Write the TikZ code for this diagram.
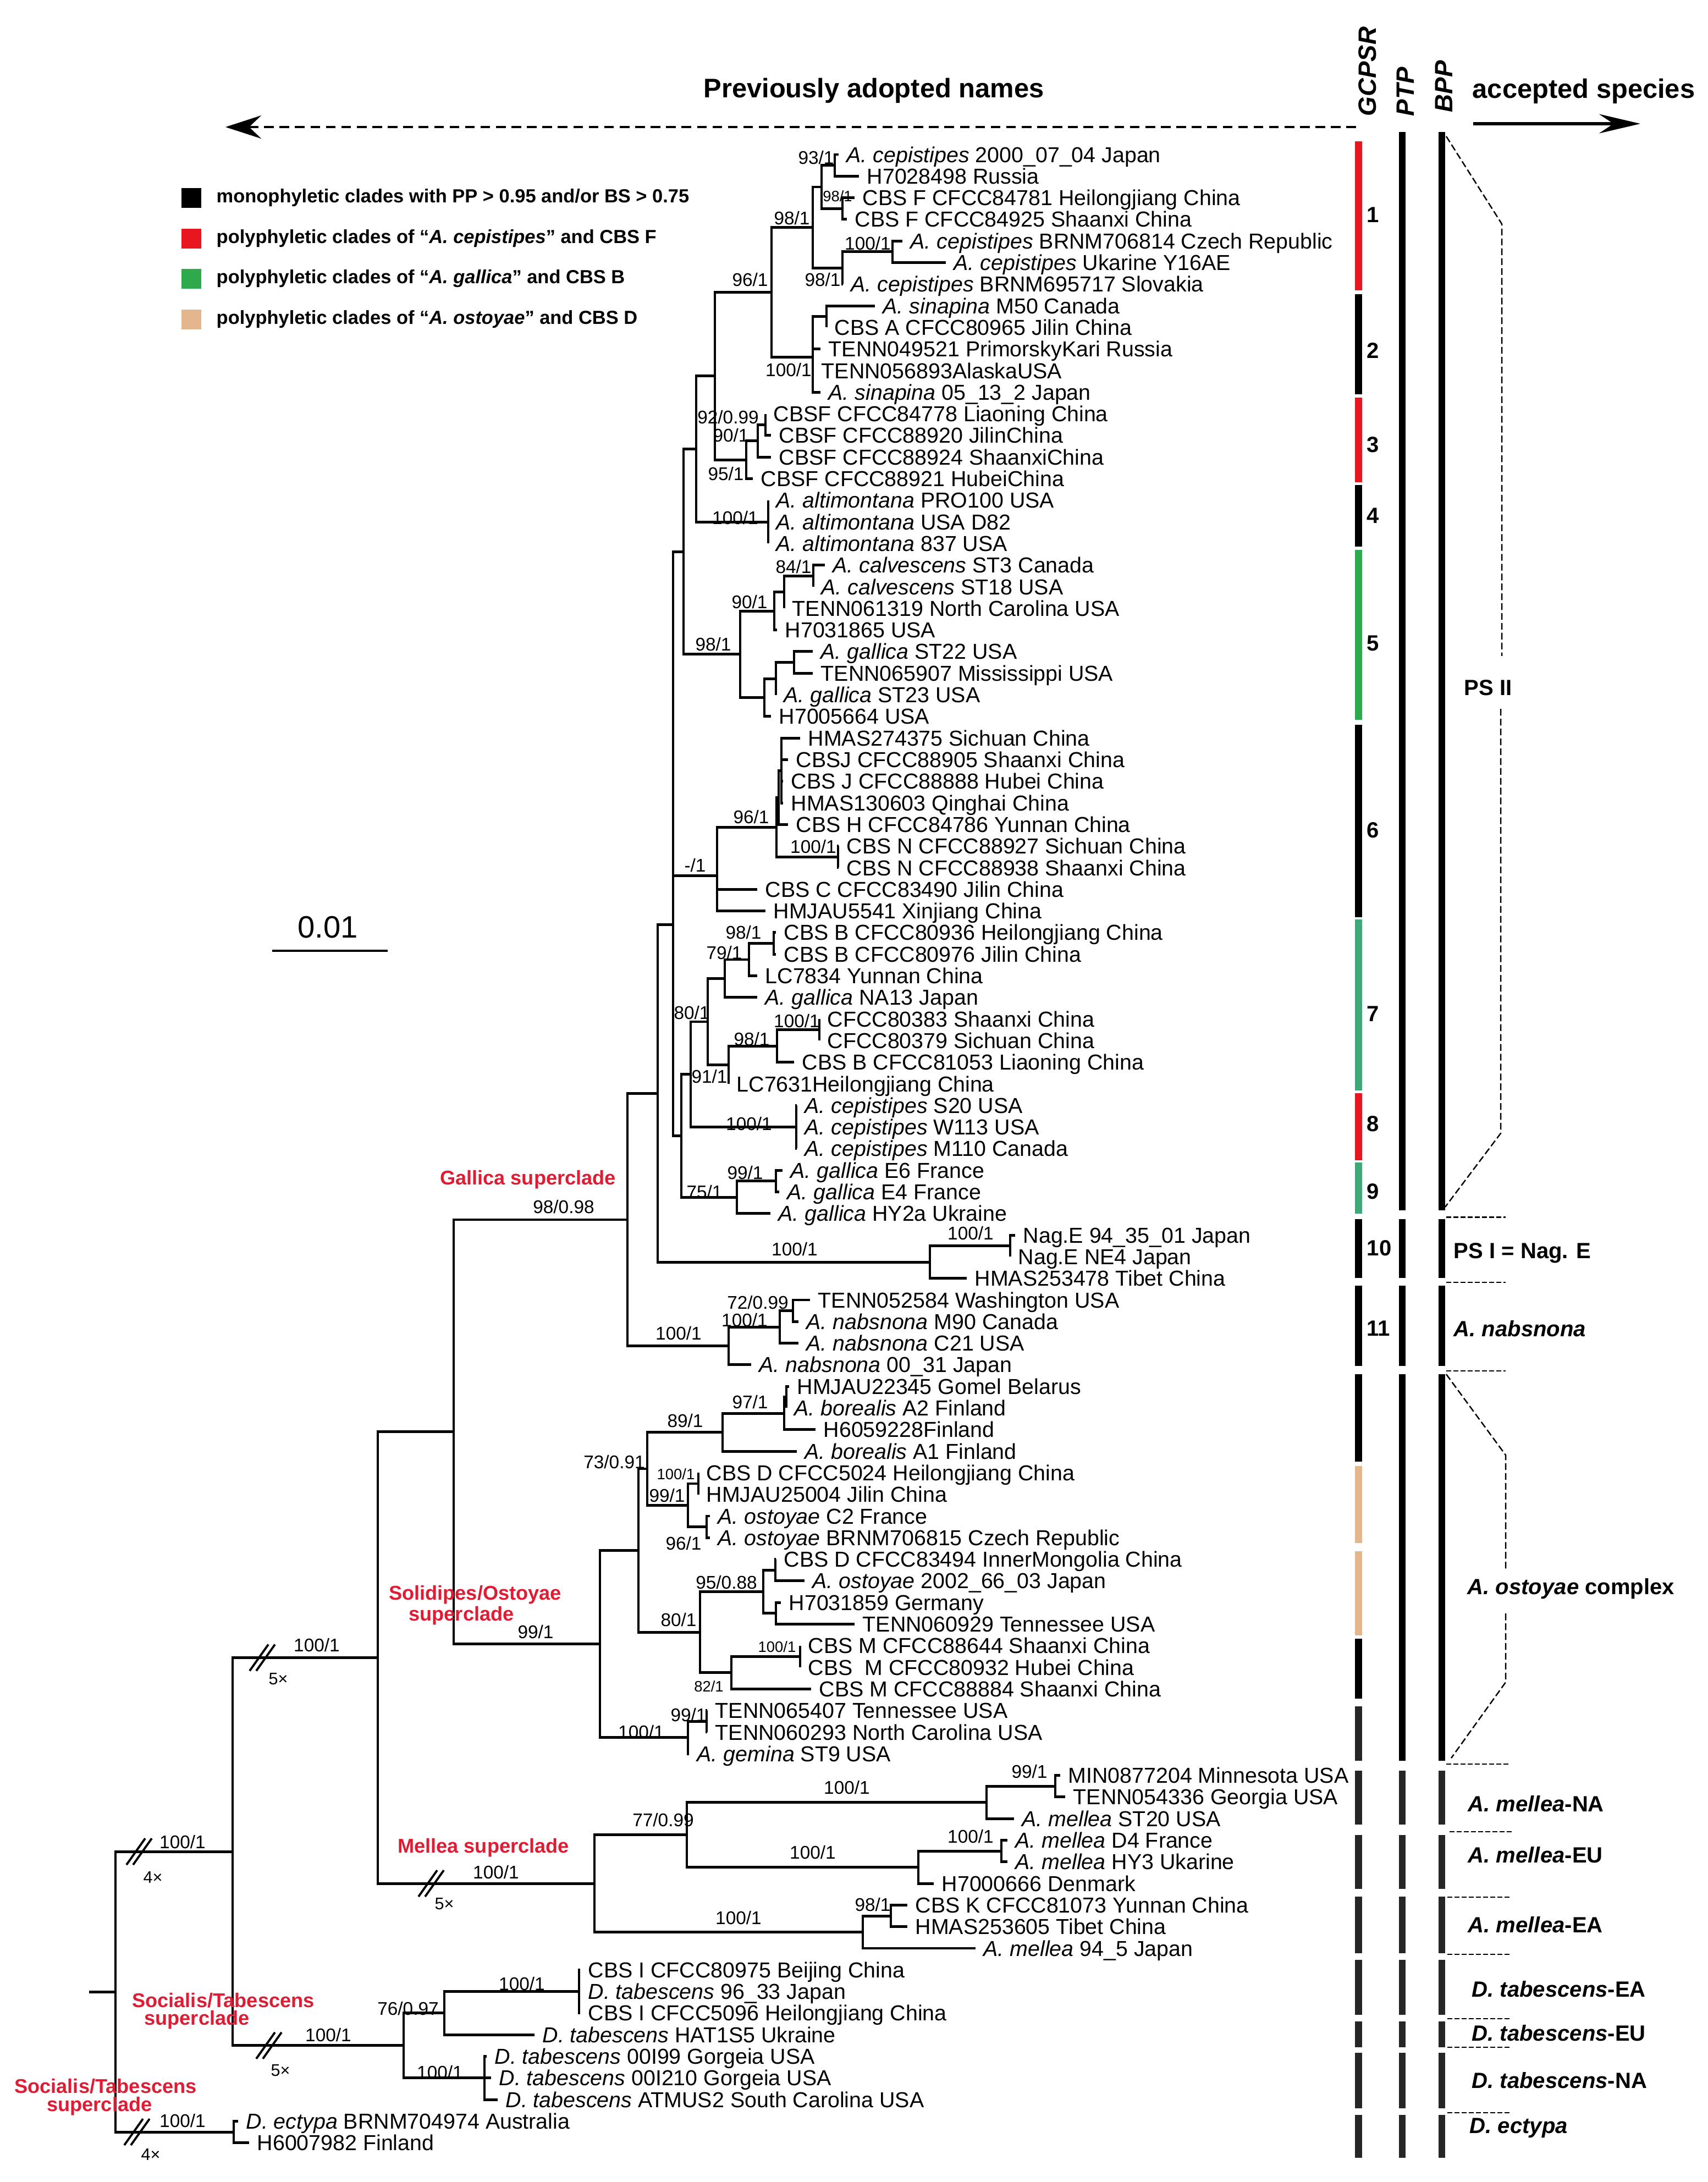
\documentclass[tikz,border=0pt]{standalone}
\usepackage{fontspec}
\setmainfont{Liberation Sans}
\usetikzlibrary{arrows.meta}

\definecolor{barred}{RGB}{232,22,30}
\definecolor{bargreen}{RGB}{46,170,76}
\definecolor{barteal}{RGB}{64,168,118}
\definecolor{bartan}{RGB}{228,182,142}
\definecolor{bardark}{RGB}{38,38,38}
\definecolor{cladered}{RGB}{222,28,52}

\begin{document}
\begin{tikzpicture}[x=1cm, y=-1cm,
    br/.style={line width=1.4pt},
    leaf/.style={anchor=west, inner xsep=0.14cm, inner ysep=0pt, text height=8pt, text depth=0pt, font=\fontsize{11.2}{12}\selectfont},
    bs/.style={inner sep=0pt, font=\fontsize{9.5}{10}\selectfont},
    bss/.style={inner sep=0pt, font=\fontsize{7.8}{8}\selectfont},
    brk/.style={line width=1.1pt},
    times/.style={inner sep=0pt, font=\fontsize{8.7}{9}\selectfont},
    super/.style={inner sep=0pt, text=cladered, font=\bfseries\fontsize{10.3}{11}\selectfont},
    colbar/.style={line width=3.7pt},
    pbar/.style={line width=3.3pt},
    num/.style={anchor=west, inner sep=0pt, font=\bfseries\fontsize{11.4}{12}\selectfont},
    spname/.style={anchor=west, inner sep=0pt, font=\bfseries\fontsize{11.4}{12}\selectfont},
    colhead/.style={rotate=90, anchor=west, inner sep=0pt, font=\bfseries\itshape\fontsize{13}{14}\selectfont},
    legtext/.style={anchor=west, inner sep=0pt, font=\bfseries\fontsize{9.8}{11}\selectfont},
    bppdash/.style={line width=0.7pt, dash pattern=on 3.5pt off 1.6pt},
    bppsep/.style={line width=0.7pt, dash pattern=on 2.5pt off 1.2pt}]

    \useasboundingbox (0,0) rectangle (31.06,39.68);

    % Header
    \node[inner sep=0pt, font=\bfseries\fontsize{13.9}{15}\selectfont] (prev) at (15.89,1.65) {Previously adopted names};
    \node[inner sep=0pt, font=\bfseries\fontsize{13.9}{15}\selectfont] (acc) at (28.80,1.66) {accepted species};
    \coordinate (hdl) at (4.10,2.31);
    \coordinate (hdr) at (24.66,2.31);
    \draw[line width=1.3pt, dash pattern=on 5pt off 3pt, -{Stealth[length=6.5mm,width=4.2mm,inset=2.2mm]}] (hdr) -- (hdl);
    \coordinate (har) at (26.79,2.25);
    \coordinate (hab) at (29.83,2.25);
    \draw[line width=1.5pt, -{Stealth[length=7.5mm,width=3.5mm,inset=2.6mm]}] (har) -- (hab);
    \node[colhead] (hg) at (24.87,2.12) {GCPSR};
    \node[colhead] (hp) at (25.56,2.12) {PTP};
    \node[colhead] (hb) at (26.26,2.05) {BPP};

    % Legend
    \fill[black] (3.30,3.42) rectangle (3.66,3.78);
    \fill[barred] (3.30,4.16) rectangle (3.66,4.52);
    \fill[bargreen] (3.30,4.89) rectangle (3.66,5.25);
    \fill[bartan] (3.30,5.63) rectangle (3.66,5.99);
    \node[legtext] (lg1) at (3.93,3.60) {monophyletic clades with PP > 0.95 and/or BS > 0.75};
    \node[legtext] (lg2) at (3.93,4.34) {polyphyletic clades of ``\emph{A. cepistipes}'' and CBS F};
    \node[legtext] (lg3) at (3.93,5.07) {polyphyletic clades of ``\emph{A. gallica}'' and CBS B};
    \node[legtext] (lg4) at (3.93,5.81) {polyphyletic clades of ``\emph{A. ostoyae}'' and CBS D};

    % Scale bar
    \node[inner sep=0pt, font=\fontsize{16}{17}\selectfont] (scl) at (5.96,16.86) {0.01};
    \draw[line width=1.2pt] (4.95,17.29) -- (7.05,17.29);

    \begin{scope}[yshift=-2.417cm, y=-0.393cm]
    % Tips
    \node[leaf] (t1) at (15.25,1) {\emph{A. cepistipes} 2000\_07\_04 Japan};
    \node[leaf] (t2) at (15.62,2) {H7028498 Russia};
    \node[leaf] (t3) at (15.54,3) {CBS F CFCC84781 Heilongjiang China};
    \node[leaf] (t4) at (15.40,4) {CBS F CFCC84925 Shaanxi China};
    \node[leaf] (t5) at (16.41,5) {\emph{A. cepistipes} BRNM706814 Czech Republic};
    \node[leaf] (t6) at (17.20,6) {\emph{A. cepistipes} Ukarine Y16AE};
    \node[leaf] (t7) at (15.33,7) {\emph{A. cepistipes} BRNM695717 Slovakia};
    \node[leaf] (t8) at (15.91,8) {\emph{A. sinapina} M50 Canada};
    \node[leaf] (t9) at (15.03,9) {CBS A CFCC80965 Jilin China};
    \node[leaf] (t10) at (14.92,10) {TENN049521 PrimorskyKari Russia};
    \node[leaf] (t11) at (14.79,11) {TENN056893AlaskaUSA};
    \node[leaf] (t12) at (14.92,12) {\emph{A. sinapina} 05\_13\_2 Japan};
    \node[leaf] (t13) at (13.92,13) {CBSF CFCC84778 Liaoning China};
    \node[leaf] (t14) at (14.02,14) {CBSF CFCC88920 JilinChina};
    \node[leaf] (t15) at (14.02,15) {CBSF CFCC88924 ShaanxiChina};
    \node[leaf] (t16) at (13.69,16) {CBSF CFCC88921 HubeiChina};
    \node[leaf] (t17) at (13.97,17) {\emph{A. altimontana} PRO100 USA};
    \node[leaf] (t18) at (13.97,18) {\emph{A. altimontana} USA D82};
    \node[leaf] (t19) at (13.97,19) {\emph{A. altimontana} 837 USA};
    \node[leaf] (t20) at (15.00,20) {\emph{A. calvescens} ST3 Canada};
    \node[leaf] (t21) at (14.79,21) {\emph{A. calvescens} ST18 USA};
    \node[leaf] (t22) at (14.26,22) {TENN061319 North Carolina USA};
    \node[leaf] (t23) at (14.13,23) {H7031865 USA};
    \node[leaf] (t24) at (14.78,24) {\emph{A. gallica} ST22 USA};
    \node[leaf] (t25) at (14.78,25) {TENN065907 Mississippi USA};
    \node[leaf] (t26) at (14.11,26) {\emph{A. gallica} ST23 USA};
    \node[leaf] (t27) at (14.02,27) {H7005664 USA};
    \node[leaf] (t28) at (14.55,28) {HMAS274375 Sichuan China};
    \node[leaf] (t29) at (14.33,29) {CBSJ CFCC88905 Shaanxi China};
    \node[leaf] (t30) at (14.24,30) {CBS J CFCC88888 Hubei China};
    \node[leaf] (t31) at (14.24,31) {HMAS130603 Qinghai China};
    \node[leaf] (t32) at (14.33,32) {CBS H CFCC84786 Yunnan China};
    \node[leaf] (t33) at (15.25,33) {CBS N CFCC88927 Sichuan China};
    \node[leaf] (t34) at (15.25,34) {CBS N CFCC88938 Shaanxi China};
    \node[leaf] (t35) at (13.77,35) {CBS C CFCC83490 Jilin China};
    \node[leaf] (t36) at (13.92,36) {HMJAU5541 Xinjiang China};
    \node[leaf] (t37) at (14.11,37) {CBS B CFCC80936 Heilongjiang China};
    \node[leaf] (t38) at (14.11,38) {CBS B CFCC80976 Jilin China};
    \node[leaf] (t39) at (13.77,39) {LC7834 Yunnan China};
    \node[leaf] (t40) at (13.77,40) {\emph{A. gallica} NA13 Japan};
    \node[leaf] (t41) at (14.90,41) {CFCC80383 Shaanxi China};
    \node[leaf] (t42) at (14.90,42) {CFCC80379 Sichuan China};
    \node[leaf] (t43) at (14.44,43) {CBS B CFCC81053 Liaoning China};
    \node[leaf] (t44) at (13.25,44) {LC7631Heilongjiang China};
    \node[leaf] (t45) at (14.49,45) {\emph{A. cepistipes} S20 USA};
    \node[leaf] (t46) at (14.49,46) {\emph{A. cepistipes} W113 USA};
    \node[leaf] (t47) at (14.49,47) {\emph{A. cepistipes} M110 Canada};
    \node[leaf] (t48) at (14.23,48) {\emph{A. gallica} E6 France};
    \node[leaf] (t49) at (14.17,49) {\emph{A. gallica} E4 France};
    \node[leaf] (t50) at (14.01,50) {\emph{A. gallica} HY2a Ukraine};
    \node[leaf] (t51) at (18.46,51) {Nag.E 94\_35\_01 Japan};
    \node[leaf] (t52) at (18.37,52) {Nag.E NE4 Japan};
    \node[leaf] (t53) at (17.58,53) {HMAS253478 Tibet China};
    \node[leaf] (t54) at (14.73,54) {TENN052584 Washington USA};
    \node[leaf] (t55) at (14.52,55) {\emph{A. nabsnona} M90 Canada};
    \node[leaf] (t56) at (14.52,56) {\emph{A. nabsnona} C21 USA};
    \node[leaf] (t57) at (13.66,57) {\emph{A. nabsnona} 00\_31 Japan};
    \node[leaf] (t58) at (14.35,58) {HMJAU22345 Gomel Belarus};
    \node[leaf] (t59) at (14.30,59) {\emph{A. borealis} A2 Finland};
    \node[leaf] (t60) at (14.83,60) {H6059228Finland};
    \node[leaf] (t61) at (14.49,61) {\emph{A. borealis} A1 Finland};
    \node[leaf] (t62) at (12.70,62) {CBS D CFCC5024 Heilongjiang China};
    \node[leaf] (t63) at (12.70,63) {HMJAU25004 Jilin China};
    \node[leaf] (t64) at (12.91,64) {\emph{A. ostoyae} C2 France};
    \node[leaf] (t65) at (12.91,65) {\emph{A. ostoyae} BRNM706815 Czech Republic};
    \node[leaf] (t66) at (14.11,66) {CBS D CFCC83494 InnerMongolia China};
    \node[leaf] (t67) at (14.63,67) {\emph{A. ostoyae} 2002\_66\_03 Japan};
    \node[leaf] (t68) at (14.20,68) {H7031859 Germany};
    \node[leaf] (t69) at (15.54,69) {TENN060929 Tennessee USA};
    \node[leaf] (t70) at (14.55,70) {CBS M CFCC88644 Shaanxi China};
    \node[leaf] (t71) at (14.55,71) {CBS\ \ M CFCC80932 Hubei China};
    \node[leaf] (t72) at (14.75,72) {CBS M CFCC88884 Shaanxi China};
    \node[leaf] (t73) at (12.86,73) {TENN065407 Tennessee USA};
    \node[leaf] (t74) at (12.86,74) {TENN060293 North Carolina USA};
    \node[leaf] (t75) at (12.53,75) {\emph{A. gemina} ST9 USA};
    \node[leaf] (t76) at (19.28,76) {MIN0877204 Minnesota USA};
    \node[leaf] (t77) at (19.37,77) {TENN054336 Georgia USA};
    \node[leaf] (t78) at (18.44,78) {\emph{A. mellea} ST20 USA};
    \node[leaf] (t79) at (18.32,79) {\emph{A. mellea} D4 France};
    \node[leaf] (t80) at (18.32,80) {\emph{A. mellea} HY3 Ukarine};
    \node[leaf] (t81) at (16.98,81) {H7000666 Denmark};
    \node[leaf] (t82) at (16.50,82) {CBS K CFCC81073 Yunnan China};
    \node[leaf] (t83) at (16.50,83) {HMAS253605 Tibet China};
    \node[leaf] (t84) at (17.74,84) {\emph{A. mellea} 94\_5 Japan};
    \node[leaf] (t85) at (10.55,85) {CBS I CFCC80975 Beijing China};
    \node[leaf] (t86) at (10.55,86) {\emph{D. tabescens} 96\_33 Japan};
    \node[leaf] (t87) at (10.55,87) {CBS I CFCC5096 Heilongjiang China};
    \node[leaf] (t88) at (9.72,88) {\emph{D. tabescens} HAT1S5 Ukraine};
    \node[leaf] (t89) at (8.85,89) {\emph{D. tabescens} 00I99 Gorgeia USA};
    \node[leaf] (t90) at (8.93,90) {\emph{D. tabescens} 00I210 Gorgeia USA};
    \node[leaf] (t91) at (9.05,91) {\emph{D. tabescens} ATMUS2 South Carolina USA};
    \node[leaf] (t92) at (4.33,92) {\emph{D. ectypa} BRNM704974 Australia};
    \node[leaf] (t93) at (4.53,93) {H6007982 Finland};

    % Inner nodes
    \coordinate (n93) at (15.18,1.5);
    \coordinate (n98a) at (15.32,3.5);
    \coordinate (n1g) at (14.94,2.5);
    \coordinate (n100a) at (16.23,5.5);
    \coordinate (n98b) at (15.32,6.25);
    \coordinate (n98c) at (14.78,4.375);
    \coordinate (nd) at (15.03,8.5);
    \coordinate (nS) at (14.78,10.375);
    \coordinate (n96) at (14.03,7.375);
    \coordinate (n92) at (13.92,13.5);
    \coordinate (n90) at (13.78,14.25);
    \coordinate (n95) at (13.57,15.125);
    \coordinate (nP1) at (13.00,11.25);
    \coordinate (n100c) at (13.97,18);
    \coordinate (nP2) at (12.66,14.625);
    \coordinate (n84) at (14.79,20.5);
    \coordinate (nq) at (14.26,21.25);
    \coordinate (n90b) at (14.08,22.125);
    \coordinate (nr) at (14.44,24.5);
    \coordinate (ns) at (14.11,25.25);
    \coordinate (nt) at (13.90,26.125);
    \coordinate (n98d) at (13.46,24.125);
    \coordinate (nTop) at (12.43,19.375);
    \coordinate (nV) at (14.21,29.5);
    \coordinate (nU) at (14.16,30.75);
    \coordinate (nN) at (15.24,33.5);
    \coordinate (n96c) at (14.12,32.125);
    \coordinate (nM) at (13.04,34.375);
    \coordinate (nA) at (12.24,26.875);
    \coordinate (n98e) at (14.07,37.5);
    \coordinate (n79) at (13.62,38.25);
    \coordinate (nu) at (13.18,39.125);
    \coordinate (n100b) at (14.90,41.5);
    \coordinate (n98f) at (14.13,42.25);
    \coordinate (nv) at (13.25,43.125);
    \coordinate (n80) at (12.87,41.125);
    \coordinate (n100p) at (14.48,46);
    \coordinate (n91) at (12.56,43.5625);
    \coordinate (n99) at (14.11,48.5);
    \coordinate (n75) at (13.40,49.25);
    \coordinate (nC) at (12.39,46.40625);
    \coordinate (nB) at (12.24,36.640625);
    \coordinate (n100d) at (18.37,51.5);
    \coordinate (nNagE) at (16.91,52.25);
    \coordinate (nG2) at (11.96,44.4453);
    \coordinate (n72) at (14.42,54.5);
    \coordinate (n100e) at (14.18,55.25);
    \coordinate (nNab) at (13.25,56.125);
    \coordinate (nGal) at (11.41,50.2852);
    \coordinate (nw) at (14.30,58.5);
    \coordinate (n97) at (14.26,59.25);
    \coordinate (n89) at (13.14,60.125);
    \coordinate (n100f) at (12.70,62.5);
    \coordinate (n96b) at (12.85,64.5);
    \coordinate (n99b) at (12.51,63.5);
    \coordinate (n73) at (11.77,61.8125);
    \coordinate (na) at (14.10,66.5);
    \coordinate (nb) at (14.11,68.5);
    \coordinate (n95b) at (13.88,67.5);
    \coordinate (n100g) at (14.55,70.5);
    \coordinate (n82) at (13.30,71.25);
    \coordinate (n80b) at (12.73,69.375);
    \coordinate (nX) at (11.61,65.59375);
    \coordinate (n99c) at (12.85,73.5);
    \coordinate (n100h) at (12.51,74.25);
    \coordinate (nSol) at (10.91,69.921875);
    \coordinate (nArm2) at (8.25,60.1035);
    \coordinate (n99d) at (19.19,76.5);
    \coordinate (n100i) at (17.94,77.25);
    \coordinate (n100j) at (18.21,79.5);
    \coordinate (n100k) at (16.70,80.25);
    \coordinate (n77) at (12.49,78.75);
    \coordinate (n98g) at (16.20,82.5);
    \coordinate (n100l) at (15.69,83.25);
    \coordinate (nMel) at (10.81,81);
    \coordinate (nArm) at (6.87,70.5518);
    \coordinate (n100m) at (10.53,86);
    \coordinate (n76) at (8.08,87);
    \coordinate (n100n) at (8.81,90);
    \coordinate (nTab) at (7.34,88.5);
    \coordinate (nIn) at (4.23,79.5259);
    \coordinate (nEct) at (4.25,92.5);
    \coordinate (nRoot) at (2.10,86.013);
    \coordinate (nStub) at (1.62,86.013);

    % Branches: Gallica superclade
    \draw[br] (n93) |- (t1.west) (n93) |- (t2.west);
    \draw[br] (n98a) |- (t3.west) (n98a) |- (t4.west);
    \draw[br] (n1g) |- (n93) (n1g) |- (n98a);
    \draw[br] (n100a) |- (t5.west) (n100a) |- (t6.west);
    \draw[br] (n98b) |- (n100a) (n98b) |- (t7.west);
    \draw[br] (n98c) |- (n1g) (n98c) |- (n98b);
    \draw[br] (nd) |- (t8.west) (nd) |- (t9.west);
    \draw[br] (nS) |- (nd) (nS) |- (t10.west) (nS) |- (t11.west) (nS) |- (t12.west);
    \draw[br] (n96) |- (n98c) (n96) |- (nS);
    \draw[br] (n92) |- (t13.west) (n92) |- (t14.west);
    \draw[br] (n90) |- (n92) (n90) |- (t15.west);
    \draw[br] (n95) |- (n90) (n95) |- (t16.west);
    \draw[br] (nP1) |- (n96) (nP1) |- (n95);
    \draw[br] (n100c) |- (t17.west) (n100c) |- (t18.west) (n100c) |- (t19.west);
    \draw[br] (nP2) |- (nP1) (nP2) |- (n100c);
    \draw[br] (n84) |- (t20.west) (n84) |- (t21.west);
    \draw[br] (nq) |- (n84) (nq) |- (t22.west);
    \draw[br] (n90b) |- (nq) (n90b) |- (t23.west);
    \draw[br] (nr) |- (t24.west) (nr) |- (t25.west);
    \draw[br] (ns) |- (nr) (ns) |- (t26.west);
    \draw[br] (nt) |- (ns) (nt) |- (t27.west);
    \draw[br] (n98d) |- (n90b) (n98d) |- (nt);
    \draw[br] (nTop) |- (nP2) (nTop) |- (n98d);
    \draw[br] (nV) |- (t28.west) (nV) |- (t29.west) (nV) |- (t30.west) (nV) |- (t31.west);
    \draw[br] (nU) |- (nV) (nU) |- (t32.west);
    \draw[br] (nN) |- (t33.west) (nN) |- (t34.west);
    \draw[br] (n96c) |- (nU) (n96c) |- (nN);
    \draw[br] (nM) |- (n96c) (nM) |- (t35.west) (nM) |- (t36.west);
    \draw[br] (nA) |- (nTop) (nA) |- (nM);
    \draw[br] (n98e) |- (t37.west) (n98e) |- (t38.west);
    \draw[br] (n79) |- (n98e) (n79) |- (t39.west);
    \draw[br] (nu) |- (n79) (nu) |- (t40.west);
    \draw[br] (n100b) |- (t41.west) (n100b) |- (t42.west);
    \draw[br] (n98f) |- (n100b) (n98f) |- (t43.west);
    \draw[br] (nv) |- (n98f) (nv) |- (t44.west);
    \draw[br] (n80) |- (nu) (n80) |- (nv);
    \draw[br] (n100p) |- (t45.west) (n100p) |- (t46.west) (n100p) |- (t47.west);
    \draw[br] (n91) |- (n80) (n91) |- (n100p);
    \draw[br] (n99) |- (t48.west) (n99) |- (t49.west);
    \draw[br] (n75) |- (n99) (n75) |- (t50.west);
    \draw[br] (nC) |- (n91) (nC) |- (n75);
    \draw[br] (nB) |- (nA) (nB) |- (nC);
    \draw[br] (n100d) |- (t51.west) (n100d) |- (t52.west);
    \draw[br] (nNagE) |- (n100d) (nNagE) |- (t53.west);
    \draw[br] (nG2) |- (nB) (nG2) |- (nNagE);
    \draw[br] (n72) |- (t54.west) (n72) |- (t55.west);
    \draw[br] (n100e) |- (n72) (n100e) |- (t56.west);
    \draw[br] (nNab) |- (n100e) (nNab) |- (t57.west);
    \draw[br] (nGal) |- (nG2) (nGal) |- (nNab);

    % Branches: Solidipes/Ostoyae superclade
    \draw[br] (nw) |- (t58.west) (nw) |- (t59.west);
    \draw[br] (n97) |- (nw) (n97) |- (t60.west);
    \draw[br] (n89) |- (n97) (n89) |- (t61.west);
    \draw[br] (n100f) |- (t62.west) (n100f) |- (t63.west);
    \draw[br] (n96b) |- (t64.west) (n96b) |- (t65.west);
    \draw[br] (n99b) |- (n100f) (n99b) |- (n96b);
    \draw[br] (n73) |- (n89) (n73) |- (n99b);
    \draw[br] (na) |- (t66.west) (na) |- (t67.west);
    \draw[br] (nb) |- (t68.west) (nb) |- (t69.west);
    \draw[br] (n95b) |- (na) (n95b) |- (nb);
    \draw[br] (n100g) |- (t70.west) (n100g) |- (t71.west);
    \draw[br] (n82) |- (n100g) (n82) |- (t72.west);
    \draw[br] (n80b) |- (n95b) (n80b) |- (n82);
    \draw[br] (nX) |- (n73) (nX) |- (n80b);
    \draw[br] (n99c) |- (t73.west) (n99c) |- (t74.west);
    \draw[br] (n100h) |- (n99c) (n100h) |- (t75.west);
    \draw[br] (nSol) |- (nX) (nSol) |- (n100h);
    \draw[br] (nArm2) |- (nGal) (nArm2) |- (nSol);

    % Branches: Mellea superclade
    \draw[br] (n99d) |- (t76.west) (n99d) |- (t77.west);
    \draw[br] (n100i) |- (n99d) (n100i) |- (t78.west);
    \draw[br] (n100j) |- (t79.west) (n100j) |- (t80.west);
    \draw[br] (n100k) |- (n100j) (n100k) |- (t81.west);
    \draw[br] (n77) |- (n100i) (n77) |- (n100k);
    \draw[br] (n98g) |- (t82.west) (n98g) |- (t83.west);
    \draw[br] (n100l) |- (n98g) (n100l) |- (t84.west);
    \draw[br] (nMel) |- (n77) (nMel) |- (n100l);
    \draw[br] (nArm) |- (nArm2) (nArm) |- (nMel);

    % Branches: Socialis/Tabescens and root
    \draw[br] (n100m) |- (t85.west) (n100m) |- (t86.west) (n100m) |- (t87.west);
    \draw[br] (n76) |- (n100m) (n76) |- (t88.west);
    \draw[br] (n100n) |- (t89.west) (n100n) |- (t90.west) (n100n) |- (t91.west);
    \draw[br] (nTab) |- (n76) (nTab) |- (n100n);
    \draw[br] (nIn) |- (nArm) (nIn) |- (nTab);
    \draw[br] (nEct) |- (t92.west) (nEct) |- (t93.west);
    \draw[br] (nRoot) |- (nIn) (nRoot) |- (nEct);
    \draw[br] (nStub) -- (nRoot);

    % Shortened branches
    \draw[brk] (2.30,80.136) -- (2.64,78.916) (2.42,80.136) -- (2.76,78.916);
    \draw[brk] (2.26,93.11) -- (2.60,91.89) (2.38,93.11) -- (2.72,91.89);
    \draw[brk] (4.54,71.162) -- (4.88,69.942) (4.66,71.162) -- (5.00,69.942);
    \draw[brk] (7.61,81.61) -- (7.95,80.39) (7.73,81.61) -- (8.07,80.39);
    \draw[brk] (4.66,89.11) -- (5.00,87.89) (4.78,89.11) -- (5.12,87.89);
    \node[times] (x1) at (5.06,71.54) {5×};
    \node[times] (x2) at (8.08,81.94) {5×};
    \node[times] (x3) at (5.10,89.65) {5×};
    \node[times] (x4) at (2.78,80.72) {4×};
    \node[times] (x5) at (2.74,93.55) {4×};

    % Support values
    \node[bs] (b1) at (14.84,1.15) {93/1};
    \node[bss] (b2) at (15.23,2.92) {98/1};
    \node[bs] (b3) at (14.40,3.93) {98/1};
    \node[bs] (b4) at (15.78,5.12) {100/1};
    \node[bs] (b5) at (14.96,6.78) {98/1};
    \node[bs] (b6) at (13.64,6.78) {96/1};
    \node[bs] (b7) at (14.34,10.97) {100/1};
    \node[bs] (b8) at (13.24,13.14) {92/0.99};
    \node[bs] (b9) at (13.29,13.98) {90/1};
    \node[bs] (b10) at (13.20,15.76) {95/1};
    \node[bs] (b11) at (13.37,17.82) {100/1};
    \node[bs] (b12) at (14.43,20.08) {84/1};
    \node[bs] (b13) at (13.63,21.71) {90/1};
    \node[bs] (b14) at (12.97,23.65) {98/1};
    \node[bs] (b15) at (13.66,31.64) {96/1};
    \node[bs] (b16) at (14.79,33.02) {100/1};
    \node[bs] (b17) at (12.64,33.90) {-/1};
    \node[bs] (b18) at (13.52,37.00) {98/1};
    \node[bs] (b19) at (13.17,37.93) {79/1};
    \node[bs] (b20) at (12.58,40.70) {80/1};
    \node[bs] (b21) at (14.49,41.10) {100/1};
    \node[bs] (b22) at (13.67,41.94) {98/1};
    \node[bs] (b23) at (12.90,43.65) {91/1};
    \node[bs] (b24) at (13.62,45.86) {100/1};
    \node[bs] (b25) at (13.55,48.12) {99/1};
    \node[bs] (b26) at (12.81,48.99) {75/1};
    \node[bs] (b27) at (17.65,50.92) {100/1};
    \node[bs] (b28) at (14.45,51.66) {100/1};
    \node[bs] (b29) at (13.78,54.11) {72/0.99};
    \node[bs] (b30) at (13.54,54.92) {100/1};
    \node[bs] (b31) at (12.34,55.54) {100/1};
    \node[bs] (b32) at (10.25,49.70) {98/0.98};
    \node[bs] (b33) at (13.64,58.71) {97/1};
    \node[bs] (b34) at (12.46,59.58) {89/1};
    \node[bs] (b35) at (11.17,61.49) {73/0.91};
    \node[bss] (b36) at (12.29,62.07) {100/1};
    \node[bs] (b37) at (12.13,63.04) {99/1};
    \node[bs] (b38) at (12.43,65.25) {96/1};
    \node[bs] (b39) at (13.21,67.06) {95/0.88};
    \node[bs] (b40) at (12.34,68.81) {80/1};
    \node[bss] (b41) at (14.13,70.06) {100/1};
    \node[bss] (b42) at (12.89,71.87) {82/1};
    \node[bs] (b43) at (12.52,73.19) {99/1};
    \node[bs] (b44) at (11.66,73.98) {100/1};
    \node[bs] (b45) at (9.74,69.35) {99/1};
    \node[bs] (b46) at (18.72,75.81) {99/1};
    \node[bs] (b47) at (15.40,76.55) {100/1};
    \node[bs] (b48) at (12.06,78.07) {77/0.99};
    \node[bs] (b49) at (17.65,78.82) {100/1};
    \node[bs] (b50) at (14.78,79.55) {100/1};
    \node[bs] (b51) at (15.87,81.99) {98/1};
    \node[bs] (b52) at (13.43,82.58) {100/1};
    \node[bs] (b53) at (9.02,80.47) {100/1};
    \node[bs] (b54) at (5.76,69.98) {100/1};
    \node[bs] (b55) at (3.32,79.09) {100/1};
    \node[bs] (b56) at (3.32,91.99) {100/1};
    \node[bs] (b57) at (5.97,88.00) {100/1};
    \node[bs] (b58) at (9.49,85.65) {100/1};
    \node[bs] (b59) at (7.42,86.80) {76/0.97};
    \node[bs] (b60) at (8.00,89.75) {100/1};

    % Superclade names
    \node[super] (s1) at (9.60,48.43) {Gallica superclade};
    \node[super] (s2) at (8.64,67.64) {Solidipes/Ostoyae};
    \node[super] (s3) at (8.39,68.61) {superclade};
    \node[super] (s4) at (8.79,79.35) {Mellea superclade};
    \node[super] (s5) at (4.06,86.40) {Socialis/Tabescens};
    \node[super] (s6) at (3.58,87.32) {superclade};
    \node[super] (s7) at (1.92,90.38) {Socialis/Tabescens};
    \node[super] (s8) at (1.81,91.30) {superclade};

    % GCPSR column
    \draw[colbar, barred] (24.70,0.39) -- (24.70,7.28) (24.70,12.25) -- (24.70,16.17) (24.70,44.43) -- (24.70,47.54);
    \draw[colbar, black] (24.70,7.46) -- (24.70,12.09) (24.70,16.29) -- (24.70,19.14) (24.70,27.39) -- (24.70,36.29)
        (24.70,50.27) -- (24.70,52.98) (24.70,53.34) -- (24.70,57.06) (24.70,57.44) -- (24.70,61.48) (24.70,69.68) -- (24.70,72.45);
    \draw[colbar, bargreen] (24.70,19.30) -- (24.70,27.16);
    \draw[colbar, barteal] (24.70,36.40) -- (24.70,44.31) (24.70,47.64) -- (24.70,50.01);
    \draw[colbar, bartan] (24.70,61.69) -- (24.70,65.25) (24.70,65.63) -- (24.70,69.52);
    \draw[colbar, bardark] (24.70,72.81) -- (24.70,75.33) (24.70,75.79) -- (24.70,78.28) (24.70,78.76) -- (24.70,81.26)
        (24.70,81.61) -- (24.70,84.24) (24.70,84.54) -- (24.70,87.08) (24.70,87.39) -- (24.70,88.58)
        (24.70,88.84) -- (24.70,91.41) (24.70,91.71) -- (24.70,93.69);
    \node[num] (g1) at (24.85,3.80) {1};
    \node[num] (g2) at (24.85,10.06) {2};
    \node[num] (g3) at (24.85,14.44) {3};
    \node[num] (g4) at (24.85,17.70) {4};
    \node[num] (g5) at (24.85,23.62) {5};
    \node[num] (g6) at (24.85,32.27) {6};
    \node[num] (g7) at (24.85,40.77) {7};
    \node[num] (g8) at (24.85,45.86) {8};
    \node[num] (g9) at (24.85,48.99) {9};
    \node[num] (g10) at (24.85,51.61) {10};
    \node[num] (g11) at (24.85,55.32) {11};

    % PTP column
    \draw[pbar, black] (25.50,-0.04) -- (25.50,49.86) (25.50,50.27) -- (25.50,52.98) (25.50,53.34) -- (25.50,57.06)
        (25.50,57.44) -- (25.50,75.33);
    \draw[pbar, bardark] (25.50,75.79) -- (25.50,78.28) (25.50,78.76) -- (25.50,81.26) (25.50,81.61) -- (25.50,84.24)
        (25.50,84.54) -- (25.50,87.08) (25.50,87.39) -- (25.50,88.58) (25.50,88.84) -- (25.50,91.41) (25.50,91.71) -- (25.50,93.69);

    % BPP column
    \draw[pbar, black] (26.22,-0.04) -- (26.22,49.86) (26.22,50.27) -- (26.22,52.98) (26.22,53.34) -- (26.22,57.06)
        (26.22,57.44) -- (26.22,75.33);
    \draw[pbar, bardark] (26.22,75.79) -- (26.22,78.28) (26.22,78.76) -- (26.22,81.26) (26.22,81.61) -- (26.22,84.24)
        (26.22,84.54) -- (26.22,87.08) (26.22,87.39) -- (26.22,88.58) (26.22,88.84) -- (26.22,91.41) (26.22,91.71) -- (26.22,93.69);

    % BPP brackets
    \draw[bppdash] (26.30,0.16) -- (27.31,4.21) -- (27.31,24.20);
    \draw[bppdash] (27.29,26.65) -- (27.29,46.29) -- (26.28,49.70);
    \draw[bppdash] (26.30,57.44) -- (27.38,61.18) -- (27.38,66.45);
    \draw[bppdash] (27.38,68.51) -- (27.38,71.69) -- (26.39,75.20);
    \draw[bppsep] (26.30,50.17) -- (27.38,50.17) (26.30,53.19) -- (27.38,53.19) (26.30,57.29) -- (27.38,57.29)
        (26.30,75.48) -- (27.45,75.48) (26.36,78.61) -- (27.49,78.61) (26.32,81.64) -- (27.45,81.64)
        (26.32,84.28) -- (27.45,84.28) (26.32,87.26) -- (27.45,87.26) (26.32,88.58) -- (27.45,88.58)
        (26.32,91.61) -- (27.45,91.61);

    % Accepted species
    \node[spname, anchor=center] (r1) at (27.06,25.68) {PS II};
    \node[spname] (r2) at (26.43,51.84) {PS I = Nag. E};
    \node[spname] (r3) at (26.43,55.32) {\emph{A. nabsnona}};
    \node[spname] (r4) at (26.68,67.36) {\emph{A. ostoyae} complex};
    \node[spname] (r5) at (26.69,77.31) {\emph{A. mellea}-NA};
    \node[spname] (r6) at (26.69,79.68) {\emph{A. mellea}-EU};
    \node[spname] (r7) at (26.69,82.91) {\emph{A. mellea}-EA};
    \node[spname] (r8) at (26.76,85.89) {\emph{D. tabescens}-EA};
    \node[spname] (r9) at (26.76,87.92) {\emph{D. tabescens}-EU};
    \node[spname] (r10) at (26.76,90.11) {\emph{D. tabescens}-NA};
    \node[spname] (r11) at (26.72,92.31) {\emph{D. ectypa}};
    \end{scope}
\end{tikzpicture}
\end{document}
